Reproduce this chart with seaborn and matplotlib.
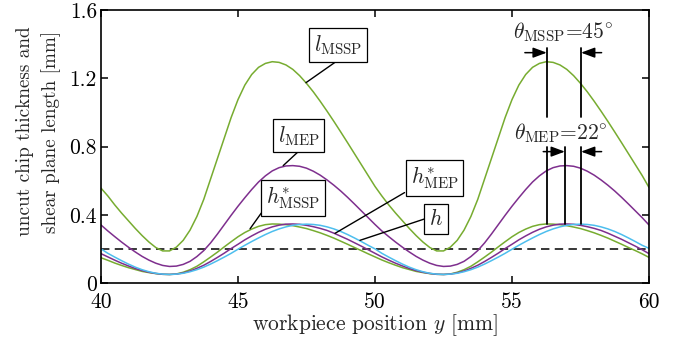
import numpy as np
import pandas as pd
import matplotlib
matplotlib.use("Agg")
import matplotlib.pyplot as plt
import seaborn as sns

# ---------------- data ----------------
pos = [40.0, 40.25, 40.5, 40.75, 41.0, 41.25, 41.5, 41.75, 42.0, 42.25,
       42.5, 42.75, 43.0, 43.25, 43.5, 43.75, 44.0, 44.25, 44.5, 44.75,
       45.0, 45.25, 45.5, 45.75, 46.0, 46.25, 46.5, 46.75, 47.0, 47.25,
       47.5, 47.75, 48.0, 48.25, 48.5, 48.75, 49.0, 49.25, 49.5, 49.75,
       50.0, 50.25, 50.5, 50.75, 51.0, 51.25, 51.5, 51.75, 52.0, 52.25,
       52.5, 52.75, 53.0, 53.25, 53.5, 53.75, 54.0, 54.25, 54.5, 54.75,
       55.0, 55.25, 55.5, 55.75, 56.0, 56.25, 56.5, 56.75, 57.0, 57.25,
       57.5, 57.75, 58.0, 58.25, 58.5, 58.75, 59.0, 59.25, 59.5, 59.75,
       60.0]

l_mssp = [0.556, 0.51, 0.458, 0.41, 0.365, 0.32, 0.278, 0.24, 0.208, 0.188,
          0.188, 0.21, 0.25, 0.31, 0.39, 0.49, 0.61, 0.73, 0.85, 0.97,
          1.075, 1.16, 1.222, 1.264, 1.287, 1.297, 1.293, 1.278, 1.252, 1.215,
          1.17, 1.12, 1.065, 1.007, 0.947, 0.885, 0.822, 0.758, 0.694, 0.63,
          0.566, 0.51, 0.458, 0.41, 0.365, 0.32, 0.278, 0.24, 0.208, 0.188,
          0.188, 0.21, 0.25, 0.31, 0.39, 0.49, 0.61, 0.73, 0.85, 0.97,
          1.075, 1.16, 1.222, 1.264, 1.287, 1.297, 1.293, 1.278, 1.252, 1.215,
          1.17, 1.12, 1.065, 1.007, 0.947, 0.885, 0.822, 0.758, 0.694, 0.63,
          0.56]

l_mep = [0.34, 0.305, 0.272, 0.24, 0.21, 0.182, 0.156, 0.134, 0.116, 0.103,
         0.097, 0.099, 0.109, 0.127, 0.155, 0.19, 0.235, 0.287, 0.342, 0.397,
         0.45, 0.5, 0.548, 0.592, 0.628, 0.657, 0.676, 0.686, 0.688, 0.684,
         0.673, 0.655, 0.632, 0.604, 0.573, 0.539, 0.502, 0.463, 0.423, 0.383,
         0.343, 0.305, 0.272, 0.24, 0.21, 0.182, 0.156, 0.134, 0.116, 0.103,
         0.097, 0.099, 0.109, 0.127, 0.155, 0.19, 0.235, 0.287, 0.342, 0.397,
         0.45, 0.5, 0.548, 0.592, 0.628, 0.657, 0.676, 0.686, 0.688, 0.684,
         0.673, 0.655, 0.632, 0.604, 0.573, 0.539, 0.502, 0.463, 0.423, 0.383,
         0.34]

h_mssp = [0.148, 0.133, 0.117, 0.103, 0.09, 0.079, 0.068, 0.061, 0.055, 0.051,
          0.05, 0.053, 0.063, 0.078, 0.098, 0.124, 0.152, 0.181, 0.212, 0.242,
          0.271, 0.296, 0.316, 0.332, 0.342, 0.346, 0.345, 0.342, 0.336, 0.328,
          0.319, 0.307, 0.294, 0.279, 0.263, 0.245, 0.227, 0.208, 0.19, 0.171,
          0.153, 0.135, 0.119, 0.104, 0.09, 0.079, 0.068, 0.061, 0.055, 0.051,
          0.05, 0.053, 0.063, 0.078, 0.098, 0.124, 0.152, 0.181, 0.212, 0.242,
          0.271, 0.296, 0.316, 0.332, 0.342, 0.346, 0.345, 0.342, 0.336, 0.328,
          0.319, 0.307, 0.294, 0.279, 0.263, 0.245, 0.227, 0.208, 0.19, 0.171,
          0.15]

h_mep = [0.172, 0.153, 0.134, 0.116, 0.1, 0.085, 0.073, 0.063, 0.056, 0.051,
         0.05, 0.052, 0.059, 0.07, 0.086, 0.104, 0.126, 0.15, 0.175, 0.202,
         0.227, 0.253, 0.276, 0.297, 0.315, 0.329, 0.339, 0.345, 0.346, 0.344,
         0.338, 0.33, 0.32, 0.308, 0.292, 0.274, 0.256, 0.236, 0.216, 0.195,
         0.174, 0.153, 0.134, 0.116, 0.1, 0.085, 0.073, 0.063, 0.056, 0.051,
         0.05, 0.052, 0.059, 0.07, 0.086, 0.104, 0.126, 0.15, 0.175, 0.202,
         0.227, 0.253, 0.276, 0.297, 0.315, 0.329, 0.339, 0.345, 0.346, 0.344,
         0.338, 0.33, 0.32, 0.308, 0.292, 0.274, 0.256, 0.236, 0.216, 0.195,
         0.172]

h = [0.2, 0.174, 0.152, 0.131, 0.111, 0.093, 0.078, 0.066, 0.057, 0.052,
     0.05, 0.052, 0.057, 0.066, 0.078, 0.093, 0.111, 0.131, 0.152, 0.174,
     0.198, 0.221, 0.243, 0.264, 0.284, 0.302, 0.317, 0.329, 0.338, 0.343,
     0.345, 0.343, 0.338, 0.329, 0.317, 0.302, 0.284, 0.264, 0.243, 0.221,
     0.2, 0.174, 0.152, 0.131, 0.111, 0.093, 0.078, 0.066, 0.057, 0.052,
     0.05, 0.052, 0.057, 0.066, 0.078, 0.093, 0.111, 0.131, 0.152, 0.174,
     0.198, 0.221, 0.243, 0.264, 0.284, 0.302, 0.317, 0.329, 0.338, 0.343,
     0.345, 0.343, 0.338, 0.329, 0.317, 0.302, 0.284, 0.264, 0.243, 0.221,
     0.203]

h_ref = 0.2
theta_mssp_lines = [56.27, 57.52]
theta_mep_lines = [56.27, 56.93, 57.52]

x_ticks = [40, 45, 50, 55, 60]
y_ticks = [0, 0.4, 0.8, 1.2, 1.6]
y_ticklabels = ["0", "0.4", "0.8", "1.2", "1.6"]

series_names = ["l_MSSP", "l_MEP", "h*_MSSP", "h*_MEP", "h"]
series_vals = [l_mssp, l_mep, h_mssp, h_mep, h]
GREEN, PURPLE, CYAN = "#77AC30", "#7E2F8E", "#4DBEEE"
palette = {"l_MSSP": GREEN, "l_MEP": PURPLE, "h*_MSSP": GREEN,
           "h*_MEP": PURPLE, "h": CYAN}

df = pd.concat([pd.DataFrame({"y": pos, "value": v, "series": n})
                for n, v in zip(series_names, series_vals)], ignore_index=True)

# ---------------- style ----------------
sns.set_style("ticks")
plt.rcParams.update({
    "font.family": ["cmr10", "DejaVu Serif"],
    "mathtext.fontset": "cm",
    "axes.formatter.use_mathtext": True,
    "font.size": 15.5,
    "axes.linewidth": 1.2,
    "axes.edgecolor": "black",
})

fig = plt.figure(figsize=(6.76, 3.4), dpi=100)
ax = fig.add_axes([101 / 676, 57 / 340, 548 / 676, 273 / 340])

sns.lineplot(data=df, x="y", y="value", hue="series", hue_order=series_names,
             palette=palette, estimator=None, legend=False, lw=1.1, ax=ax)

ax.axhline(h_ref, color="black", lw=1.1, dashes=(5.5, 3.5), zorder=1)

ax.set_xlim(40, 60)
ax.set_ylim(0, 1.6)
ax.set_xticks(x_ticks)
ax.set_xticklabels([str(t) for t in x_ticks])
ax.set_yticks(y_ticks)
ax.set_yticklabels(y_ticklabels)
ax.tick_params(direction="in", length=5, width=1.1, top=True, right=True,
               labelsize=15.5, colors="black")
ax.tick_params(axis="x", pad=7)
ax.tick_params(axis="y", pad=3)

ax.set_xlabel(r"workpiece position $y$ [mm]", fontsize=15.5, labelpad=0)
ax.set_ylabel("uncut chip thickness and\nshear plane length [mm]",
              fontsize=13.8, linespacing=1.45, va="center", ha="center")
ax.yaxis.set_label_coords(-0.114, 0.555)

# ---------------- label boxes with leaders ----------------
box = dict(boxstyle="square,pad=0.22", fc="white", ec="black", lw=0.9)
labels = [
    (r"$l_{\mathrm{MSSP}}$", (48.65, 1.395), (48.6, 1.30), (47.48, 1.174)),
    (r"$l_{\mathrm{MEP}}$", (47.22, 0.863), (47.2, 0.77), (46.65, 0.688)),
    (r"$h^{*}_{\mathrm{MSSP}}$", (47.02, 0.498), (45.85, 0.41), (45.44, 0.318)),
    (r"$h^{*}_{\mathrm{MEP}}$", (52.17, 0.618), (51.08, 0.53), (48.54, 0.291)),
    (r"$h$", (52.23, 0.376), (51.8, 0.375), (49.45, 0.25)),
]
for txt, c, p0, p1 in labels:
    ax.plot([p0[0], p1[0]], [p0[1], p1[1]], color="black", lw=1.0, zorder=4)
    ax.text(c[0], c[1], txt, ha="center", va="center", fontsize=15.5,
            bbox=box, zorder=5)

# ---------------- theta annotations ----------------
arrow_kw = dict(arrowstyle="-|>,head_length=0.75,head_width=0.28", color="black",
                lw=1.1, shrinkA=0, shrinkB=0, mutation_scale=11)
# MSSP
for xv in theta_mssp_lines:
    ax.plot([xv, xv], [0.975, 1.375], color="black", lw=1.3, zorder=4)
ax.annotate("", xy=(theta_mssp_lines[0], 1.35), xytext=(55.47, 1.35),
            arrowprops=arrow_kw, zorder=4)
ax.annotate("", xy=(theta_mssp_lines[1], 1.35), xytext=(58.27, 1.35),
            arrowprops=arrow_kw, zorder=4)
ax.text(56.88, 1.47, r"$\theta_{\mathrm{MSSP}}$=45$^{\circ}$", ha="center",
        va="center", fontsize=15.5)
# MEP
for xv in theta_mep_lines:
    ax.plot([xv, xv], [0.346, 0.795], color="black", lw=1.3, zorder=4)
ax.annotate("", xy=(theta_mep_lines[1], 0.77), xytext=(56.14, 0.77),
            arrowprops=arrow_kw, zorder=4)
ax.annotate("", xy=(theta_mep_lines[2], 0.77), xytext=(58.27, 0.77),
            arrowprops=arrow_kw, zorder=4)
ax.text(56.8, 0.88, r"$\theta_{\mathrm{MEP}}$=22$^{\circ}$", ha="center",
        va="center", fontsize=15.5)

fig.savefig("out.png", dpi=100)
